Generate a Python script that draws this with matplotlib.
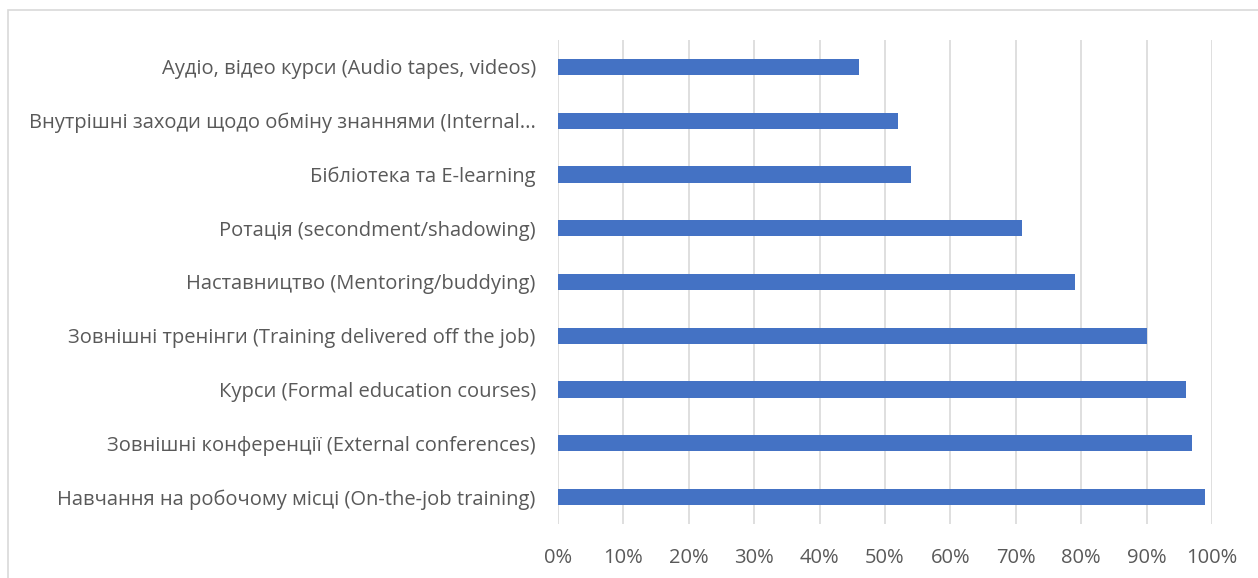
import matplotlib.pyplot as plt
from matplotlib.patches import Rectangle
from matplotlib.ticker import PercentFormatter

# Методи навчання персоналу, частка організацій (%)
categories = [
    "Навчання на робочому місці (On-the-job training)",
    "Зовнішні конференції (External conferences)",
    "Курси (Formal education courses)",
    "Зовнішні тренінги (Training delivered off the job)",
    "Наставництво (Mentoring/buddying)",
    "Ротація (secondment/shadowing)",
    "Бібліотека та E-learning",
    "Внутрішні заходи щодо обміну знаннями (Internal...",
    "Аудіо, відео курси (Audio tapes, videos)",
]
values = [99, 97, 96, 90, 79, 71, 54, 52, 46]
x_ticks = list(range(0, 101, 10))

plt.rcParams['font.family'] = ['Open Sans', 'DejaVu Sans']

fig = plt.figure(figsize=(12.58, 5.78), dpi=100)
fig.patches.append(Rectangle((8 / 1258, -0.1), 1.2, 1 - 10 / 578 + 0.1,
                             transform=fig.transFigure, fill=False,
                             edgecolor='#d9d9d9', linewidth=1.2))

ax = fig.add_axes([558 / 1258, 54 / 578, (1212 - 558) / 1258, (538 - 54) / 578])
ax.barh(range(len(categories)), values, height=0.3, color='#4472c4', zorder=3)

ax.set_xlim(0, 100)
ax.set_ylim(-0.5, len(categories) - 0.5)
ax.set_xticks(x_ticks)
ax.xaxis.set_major_formatter(PercentFormatter(decimals=0))
ax.set_yticks(range(len(categories)))
ax.set_yticklabels(categories)

ax.grid(axis='x', color='#d9d9d9', linewidth=1.2, zorder=0)
for side in ax.spines.values():
    side.set_visible(False)
ax.tick_params(axis='both', length=0, labelsize=14.5, labelcolor='#595959')
ax.tick_params(axis='y', pad=16)
ax.tick_params(axis='x', pad=17)

fig.savefig('out.png', dpi=100)
